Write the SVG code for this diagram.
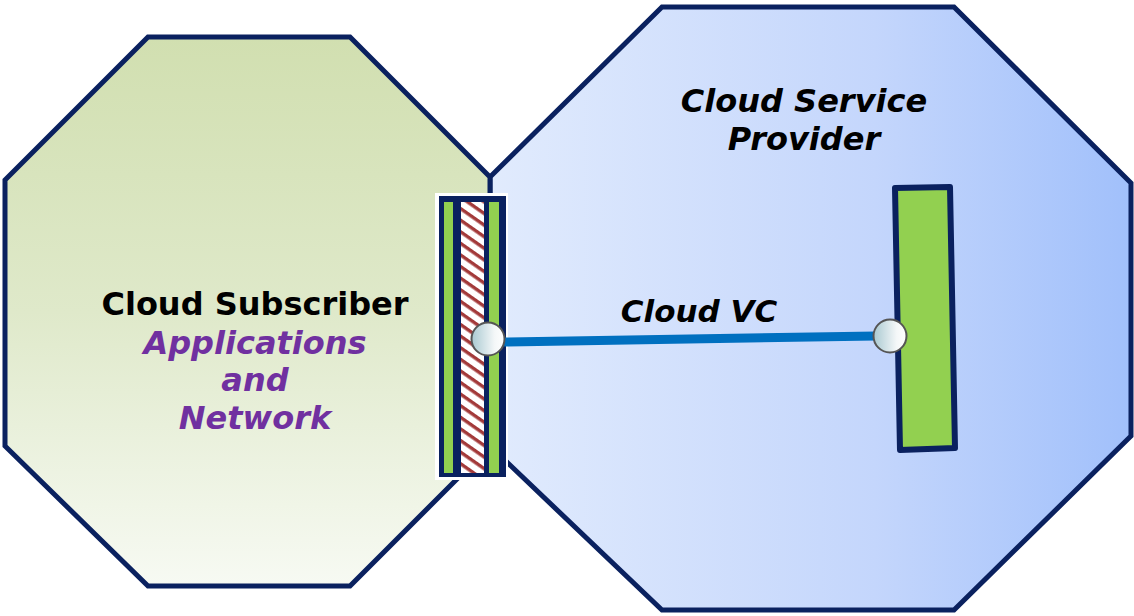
<svg xmlns="http://www.w3.org/2000/svg" width="1134" height="616" viewBox="0 0 1134 616">
  <style>
    .oct { stroke: #0a215f; stroke-width: 5; stroke-linejoin: miter; }
    .lbl { font-family: "DejaVu Sans", Verdana, sans-serif; font-weight: bold; text-anchor: middle; }
    .it { font-style: italic; }
    .port { stroke: #555555; stroke-width: 2; fill: url(#portGrad); }
  </style>
  <defs>
    <linearGradient id="greenGrad" x1="0" y1="0" x2="0" y2="1">
      <stop offset="0" stop-color="#d1dfb0"/>
      <stop offset="0.5" stop-color="#dfe9ca"/>
      <stop offset="1" stop-color="#f7faf3"/>
    </linearGradient>
    <linearGradient id="blueGrad" x1="0" y1="0" x2="1" y2="0">
      <stop offset="0" stop-color="#e1ebfd"/>
      <stop offset="0.6" stop-color="#c4d6fc"/>
      <stop offset="1" stop-color="#a1c0fb"/>
    </linearGradient>
    <linearGradient id="portGrad" x1="0" y1="0" x2="1" y2="0">
      <stop offset="0" stop-color="#a9c9d1"/>
      <stop offset="0.7" stop-color="#f4f7f8"/>
      <stop offset="1" stop-color="#ffffff"/>
    </linearGradient>
    <pattern id="hatch" width="9.5" height="9.5" patternUnits="userSpaceOnUse" patternTransform="rotate(35)">
      <rect width="9.5" height="9.5" fill="#ffffff"/>
      <rect x="0" y="0" width="9.5" height="3.4" fill="#a33a3a"/>
    </pattern>
  </defs>

  <g id="provider">
    <polygon class="oct" fill="url(#blueGrad)" points="662,7 954,7 1131,183 1131,436 954,610 662,610 490,446 490,177"/>
    <text class="lbl it" x="804" y="112" font-size="32" fill="#000000">Cloud Service</text>
    <text class="lbl it" x="804" y="150" font-size="32" fill="#000000">Provider</text>
  </g>

  <g id="subscriber">
    <polygon class="oct" fill="url(#greenGrad)" points="148,37 350,37 490,177 490,446 350,586 148,586 5,446 5,180"/>
    <text class="lbl" x="255" y="315" font-size="32" fill="#000000">Cloud Subscriber</text>
    <text class="lbl it" x="255" y="354" font-size="32" fill="#7030a0">Applications</text>
    <text class="lbl it" x="255" y="391" font-size="32" fill="#7030a0">and</text>
    <text class="lbl it" x="255" y="429" font-size="32" fill="#7030a0">Network</text>
  </g>

  <g id="subscriber-interface">
    <rect x="435" y="193" width="73" height="287" fill="#ffffff"/>
    <rect x="439" y="196" width="67" height="281" fill="#0a215f"/>
    <rect x="444" y="202" width="9" height="271" fill="#92d050"/>
    <rect x="461" y="202" width="23" height="271" fill="url(#hatch)"/>
    <rect x="489" y="202" width="10" height="271" fill="#92d050"/>
  </g>

  <g id="provider-interface">
    <polygon points="895,188 950,187 955,448 900,450" fill="#92d050" stroke="#0a215f" stroke-width="6" stroke-linejoin="round"/>
  </g>

  <g id="connectors">
    <line x1="504" y1="342" x2="876" y2="336" stroke="#0070c0" stroke-width="9"/>
    <text class="lbl it" x="699" y="322" font-size="31" fill="#000000">Cloud VC</text>
  </g>

  <g id="ports">
    <circle class="port" cx="488" cy="339" r="16.5"/>
    <circle class="port" cx="890" cy="336" r="16.5"/>
  </g>
</svg>
